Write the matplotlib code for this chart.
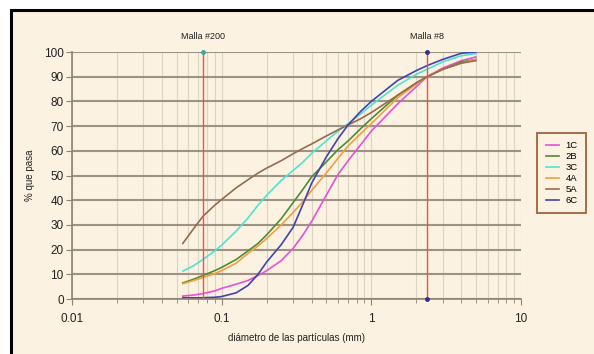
"""Curvas granulometricas: % que pasa vs diametro de las particulas"""
import matplotlib
matplotlib.use("Agg")
from matplotlib import pyplot as plt
from matplotlib.patches import Rectangle
from matplotlib.ticker import LogLocator, NullFormatter, FixedLocator

plt.rcParams['font.family'] = ['Liberation Sans', 'DejaVu Sans']

# diametros (mm) comunes a todas las muestras
diam = [0.055, 0.065, 0.075, 0.09, 0.1, 0.125, 0.15, 0.175, 0.2, 0.25,
        0.3, 0.35, 0.4, 0.5, 0.6, 0.7, 0.85, 1, 1.5, 2, 2.36, 3, 4, 5]

pasa_1C = [1.2, 1.6, 2.2, 3.3, 4.3, 6, 7.5, 9.5, 11.5, 15.5,
           20.5, 26, 31.5, 42, 50.5, 56, 62.5, 68, 79, 86, 90, 93.5, 96.5, 98]
pasa_2B = [6.5, 8, 9.5, 11.5, 12.8, 16, 19.5, 22.5, 26, 32.5,
           39, 44.5, 49.5, 55.5, 60.5, 64, 69, 73, 82.5, 87.5, 90, 93, 96, 97]
pasa_3C = [11.3, 13.5, 16, 19.5, 21.8, 27.5, 32.8, 38, 42, 48,
           52, 55.5, 59, 64, 68, 71, 75, 78.5, 86.5, 91, 93, 96, 98.5, 99.4]
pasa_4A = [6.2, 7.5, 8.7, 10.3, 11.5, 14.5, 18.5, 21.5, 24.5, 30,
           35, 39.5, 44, 51, 57, 62, 67, 71, 81.5, 87, 90, 93, 95.5, 97]
pasa_5A = [22.5, 28.5, 33.5, 38, 40.3, 45, 48.3, 51, 53, 56,
           58.8, 61, 62.8, 66, 68.5, 70.5, 73, 75.5, 82.5, 87.5, 90, 93, 95.5, 96.5]
pasa_6C = [0.5, 0.5, 0.5, 0.7, 1.0, 2.5, 5.5, 10, 15, 22,
           29, 38.5, 47, 57.5, 65, 70.5, 76, 80, 88.5, 92.5, 94.5, 97, 99.5, 100]

muestras = ['1C', '2B', '3C', '4A', '5A', '6C']
colores = ['#e552d8', '#4f8a35', '#4fe3d2', '#f0a040', '#9a6a50', '#4242b0']

# mallas de referencia
malla_diam = [0.075, 2.36]
malla_nombre = ['Malla #200', 'Malla #8']

fondo = '#fbf2e1'
W, H = 594, 354
fig = plt.figure(figsize=(W / 100, H / 100), dpi=100, facecolor='white')

# marco exterior
fig.patches.append(Rectangle((11 / W, -0.05), 1.1, 1 - 10 / H + 0.05,
                             transform=fig.transFigure, facecolor=fondo,
                             edgecolor='black', linewidth=2.2, zorder=-1))

ax = fig.add_axes([72 / W, 1 - 299 / H, (521 - 72) / W, (299 - 52) / H])
ax.set_facecolor(fondo)
ax.set_xscale('log')
ax.set_xlim(0.01, 10)
ax.set_ylim(0, 100)

# rejilla
ax.yaxis.set_major_locator(FixedLocator(range(0, 101, 10)))
ax.xaxis.set_major_locator(LogLocator(base=10))
ax.xaxis.set_minor_locator(LogLocator(base=10, subs=range(2, 10)))
ax.xaxis.set_minor_formatter(NullFormatter())
ax.set_xticks([0.01, 0.1, 1, 10])
ax.set_xticklabels(['0.01', '0.1', '1', '10'])
ax.grid(True, axis='y', which='major', color='#9c9382', linewidth=1.5)
ax.grid(True, axis='x', which='both', color='#ddd3c1', linewidth=0.8)
ax.set_axisbelow(True)

for lado in ['top', 'right']:
    ax.spines[lado].set_visible(False)
for lado in ['left', 'bottom']:
    ax.spines[lado].set_color('#8c8474')
    ax.spines[lado].set_linewidth(1.2)
ax.tick_params(axis='both', which='both', colors='#8c8474', labelcolor='#222222',
               labelsize=8.5, direction='out')
ax.tick_params(axis='x', which='major', length=4, pad=6)
ax.tick_params(axis='x', which='minor', length=3)
ax.tick_params(axis='y', length=4, pad=2)

series = [pasa_1C, pasa_2B, pasa_3C, pasa_4A, pasa_5A, pasa_6C]
for nombre, color, valores in zip(muestras, colores, series):
    ax.plot(diam, valores, color=color, linewidth=1.2, label=nombre,
            solid_joinstyle='round')

for d, nombre in zip(malla_diam, malla_nombre):
    ax.vlines(d, 0, 100, color='#ff4a4a', linewidth=1.0, zorder=3)
    ax.text(d, 104.5, nombre, ha='center', va='bottom', fontsize=6.5,
            color='#222222')
ax.plot([malla_diam[0]], [100], marker='o', markersize=2.5, color='#3aa8a0',
        clip_on=False, zorder=4)
ax.plot([malla_diam[1]] * 2, [100, 0], 'o', markersize=2.5, color='#303090',
        clip_on=False, zorder=4)

ax.set_xlabel('diámetro de las partículas (mm)', fontsize=7, labelpad=6,
              color='#222222')
ax.set_ylabel('% que pasa', fontsize=7, labelpad=6, color='#222222')

leg = fig.legend(loc='upper left', bbox_to_anchor=(537 / W, 1 - 133 / H),
                 borderaxespad=0, fontsize=6.8, handlelength=1.4,
                 labelspacing=0.2, frameon=True, fancybox=False,
                 edgecolor='#a56c48', facecolor=fondo, framealpha=1,
                 borderpad=0.9, handletextpad=0.7)
leg.get_frame().set_linewidth(1.4)

plt.savefig('out.png', dpi=100, facecolor=fig.get_facecolor())
